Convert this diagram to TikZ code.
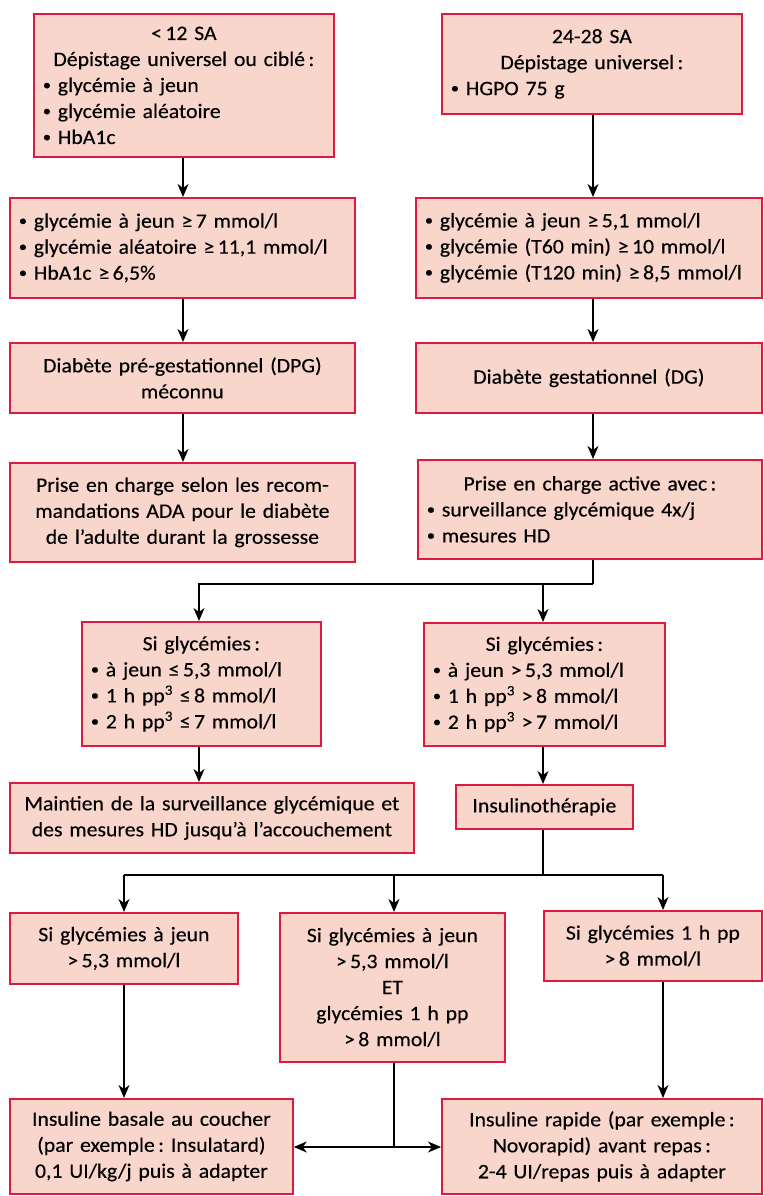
\documentclass[tikz,border=0pt]{standalone}
\usepackage{fontspec}
\setmainfont{Carlito}[FakeStretch=1.06,FakeBold=0.3]
\usetikzlibrary{arrows.meta,calc}
\definecolor{boxred}{HTML}{E01A3C}
\definecolor{boxfill}{HTML}{F9D6CC}
\frenchspacing
\tikzset{
  box/.style={draw=boxred, fill=boxfill, line width=1.8pt, inner xsep=9pt, inner ysep=0pt,
    anchor=north west, font=\fontsize{20.5}{26}\selectfont},
  line/.style={draw=black, line width=1.5pt},
  arr/.style={line, -{Stealth[length=13pt,width=11pt,inset=4pt]}}
}
\newcommand\cl[1]{{\centering #1\par}}
\newcommand\bul{\raisebox{0.1em}{\scalebox{0.75}{•}}\ }
\begin{document}
\begin{tikzpicture}[x=1pt,y=-1pt]
\useasboundingbox (0,0) rectangle (763,1196);
% row 1
\node[box, minimum width=300pt, text width=282pt, minimum height=143pt] (a1) at (33,13)
  {\cl{<\,12 SA\\Dépistage universel ou ciblé\,:}\raggedright \bul glycémie à jeun\\\bul glycémie aléatoire\\\bul HbA1c};
\node[box, minimum width=300pt, text width=282pt, minimum height=100pt] (b1) at (441,13)
  {\cl{24-28 SA\\Dépistage universel\,:}\raggedright \bul HGPO 75 g};
% row 2
\node[box, minimum width=345pt, text width=327pt, minimum height=100pt] (a2) at (9,197)
  {\raggedright \bul glycémie à jeun ≥\,7 mmol/l\\\bul glycémie aléatoire ≥\,11,1 mmol/l\\\bul HbA1c ≥\,6,5\%};
\node[box, minimum width=346pt, text width=328pt, minimum height=100pt] (b2) at (415,197)
  {\raggedright \bul glycémie à jeun ≥\,5,1 mmol/l\\\bul glycémie (T60 min) ≥\,10 mmol/l\\\bul glycémie (T120 min) ≥\,8,5 mmol/l};
% row 3
\node[box, minimum width=345pt, text width=327pt, minimum height=70pt] (a3) at (9,342)
  {\cl{Diabète pré-gestationnel (DPG)\\méconnu}};
\node[box, minimum width=346pt, text width=328pt, minimum height=70pt] (b3) at (415,342)
  {\cl{Diabète gestationnel (DG)}};
% row 4
\node[box, minimum width=345pt, text width=327pt, minimum height=99pt] (a4) at (9,462)
  {\cl{Prise en charge selon les recom-\\mandations ADA pour le diabète\\de l'adulte durant la grossesse}};
\node[box, minimum width=344pt, text width=326pt, minimum height=99pt] (b4) at (417,459)
  {\cl{Prise en charge active avec\,:}\raggedright \bul surveillance glycémique 4x/j\\\bul mesures HD};
% row 5
\node[box, minimum width=239pt, text width=221pt, minimum height=124pt] (c1) at (81,621)
  {\cl{Si glycémies\,:}\raggedright \bul à jeun ≤\,5,3 mmol/l\\\bul 1 h pp\textsuperscript{3} ≤\,8 mmol/l\\\bul 2 h pp\textsuperscript{3} ≤\,7 mmol/l};
\node[box, minimum width=241pt, text width=223pt, minimum height=123pt] (c2) at (423,622)
  {\cl{Si glycémies\,:}\raggedright \bul à jeun >\,5,3 mmol/l\\\bul 1 h pp\textsuperscript{3} >\,8 mmol/l\\\bul 2 h pp\textsuperscript{3} >\,7 mmol/l};
% row 6
\node[box, minimum width=404pt, text width=386pt, minimum height=70pt] (d1) at (9,782)
  {\cl{Maintien de la surveillance glycémique et\\des mesures HD jusqu'à l'accouchement}};
\node[box, minimum width=177pt, text width=159pt, minimum height=44pt] (d2) at (455,784)
  {\cl{Insulinothérapie}};
% row 7
\node[box, minimum width=228pt, text width=210pt, minimum height=71pt] (e1) at (9,912)
  {\cl{Si glycémies à jeun\\>\,5,3 mmol/l}};
\node[box, minimum width=225pt, text width=207pt, minimum height=149pt] (e2) at (279,912)
  {\cl{Si glycémies à jeun\\>\,5,3 mmol/l\\ET\\glycémies 1 h pp\\>\,8 mmol/l}};
\node[box, minimum width=218pt, text width=200pt, minimum height=70pt] (e3) at (543,910)
  {\cl{Si glycémies 1 h pp\\>\,8 mmol/l}};
% row 8
\node[box, minimum width=283pt, text width=265pt, minimum height=95pt] (f1) at (9,1098)
  {\cl{Insuline basale au coucher\\(par exemple\,: Insulatard)\\0,1 UI/kg/j puis à adapter}};
\node[box, minimum width=320pt, text width=302pt, minimum height=95pt] (f2) at (441,1098)
  {\cl{Insuline rapide (par exemple\,:\\Novorapid) avant repas\,:\\2-4 UI/repas puis à adapter}};
% connectors
\coordinate (ax) at (183,0);
\draw[arr] (ax |- a1.south) -- (ax |- a2.north);
\draw[arr] (ax |- a2.south) -- (ax |- a3.north);
\draw[arr] (ax |- a3.south) -- (ax |- a4.north);
\coordinate (bx) at (593,0);
\draw[arr] (bx |- b1.south) -- (bx |- b2.north);
\draw[arr] (bx |- b2.south) -- (bx |- b3.north);
\draw[arr] (bx |- b3.south) -- (bx |- b4.north);
\coordinate (j1) at ($(bx |- b4.south)+(0,24)$);
\draw[line] (bx |- b4.south) -- (j1);
\coordinate (cx) at (199,0);
\coordinate (dx) at (543,0);
\draw[arr] (j1) -- (j1 -| cx) -- (cx |- c1.north);
\draw[arr] (dx |- j1) -- (dx |- c2.north);
\draw[arr] (cx |- c1.south) -- (cx |- d1.north);
\draw[arr] (dx |- c2.south) -- (dx |- d2.north);
\coordinate (j2) at ($(dx |- d2.south)+(0,45)$);
\coordinate (e1x) at (124,0);
\coordinate (e2x) at (394,0);
\coordinate (ex) at (663,0);
\draw[line] (dx |- d2.south) -- (j2);
\draw[line] (j2 -| e1x) -- (j2 -| ex);
\draw[arr] (j2 -| e1x) -- (e1x |- e1.north);
\draw[arr] (j2 -| e2x) -- (e2x |- e2.north);
\draw[arr] (j2 -| ex) -- (ex |- e3.north);
\draw[arr] (e1x |- e1.south) -- (e1x |- f1.north);
\draw[arr] (ex |- e3.south) -- (ex |- f2.north);
\coordinate (j3) at (e2x |- 0,1147);
\draw[line] (e2x |- e2.south) -- (j3);
\draw[arr] (j3) -- (j3 -| f1.east);
\draw[arr] (j3) -- (j3 -| f2.west);
\end{tikzpicture}
\end{document}
